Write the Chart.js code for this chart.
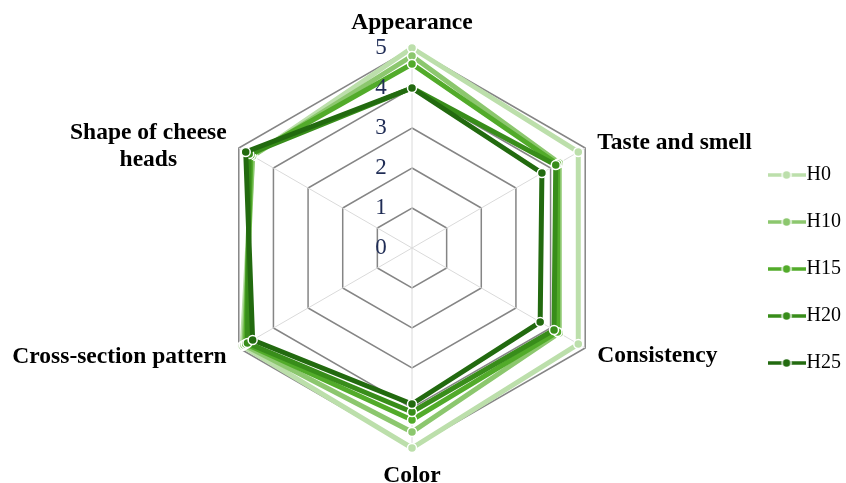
<!DOCTYPE html>
<html>
<head>
<meta charset="utf-8">
<script src="https://cdn.jsdelivr.net/npm/chart.js@4.4.1/dist/chart.umd.min.js"></script>
<style>
  html, body { margin: 0; padding: 0; background: #fff; }
  #wrap { width: 846px; height: 483px; }
</style>
</head>
<body>
<div id="wrap"><canvas id="radar"></canvas></div>
<script>
// sensory scores per criterion
const criteria = ['Appearance', 'Taste and smell', 'Consistency', 'Color', 'Cross-section pattern', ['Shape of cheese', 'heads']];
const seriesNames = ['H0', 'H10', 'H15', 'H20', 'H25'];
const h0 = [5.0, 4.8, 4.8, 5.0, 4.9, 4.6];
const h10 = [4.8, 4.25, 4.25, 4.6, 4.85, 4.6];
const h15 = [4.6, 4.2, 4.2, 4.3, 4.8, 4.65];
const h20 = [4.0, 4.15, 4.1, 4.1, 4.75, 4.7];
const h25 = [4.0, 3.75, 3.7, 3.9, 4.6, 4.8];
const scoreTicks = [0, 1, 2, 3, 4, 5];

const colors = ['#bcdfab', '#8cc76e', '#52ab2a', '#388d1a', '#226a0f'];
const series = [h0, h10, h15, h20, h25];

function legendMark(color) {
  const c = document.createElement('canvas');
  c.width = 38; c.height = 12;
  const g = c.getContext('2d');
  g.strokeStyle = color;
  g.lineWidth = 3.5;
  g.beginPath(); g.moveTo(0, 6); g.lineTo(38, 6); g.stroke();
  g.fillStyle = color;
  g.strokeStyle = '#fff';
  g.lineWidth = 1.5;
  g.beginPath(); g.arc(19, 6, 4.5, 0, Math.PI * 2); g.fill(); g.stroke();
  return c;
}
const marks = colors.map(legendMark);

// tick numbers left of the axis and the criterion names
const radarText = {
  id: 'radarText',
  afterDraw(chart) {
    const r = chart.scales.r;
    const ctx = chart.ctx;
    ctx.save();
    ctx.font = '23px "Liberation Serif"';
    ctx.fillStyle = '#1f2c55';
    ctx.textAlign = 'center';
    ctx.textBaseline = 'middle';
    scoreTicks.forEach(v => {
      const d = r.getDistanceFromCenterForValue(v);
      ctx.fillText(String(v), r.xCenter - 31, r.yCenter - d);
    });

    ctx.font = 'bold 23.5px "Liberation Serif"';
    ctx.fillStyle = '#000';
    const nudge = [1, 2, 1, 2, 2, 5];
    criteria.forEach((lab, i) => {
      const lines = [].concat(lab);
      const lh = 27;
      const gap = (i === 0 || i === 3) ? 26 : 14;
      const p = r.getPointPosition(i, r.drawingArea + gap);
      const w = Math.max(...lines.map(s => ctx.measureText(s).width));
      let x = p.x;
      if (p.x > r.xCenter + 1) x = p.x + w / 2;
      else if (p.x < r.xCenter - 1) x = p.x - w / 2;
      const y0 = p.y - (lines.length - 1) * lh / 2 + nudge[i];
      lines.forEach((s, k) => ctx.fillText(s, x, y0 + k * lh));
    });
    ctx.restore();
  }
};

new Chart(document.getElementById('radar'), {
  type: 'radar',
  data: {
    labels: criteria,
    datasets: seriesNames.map((name, i) => ({
      label: name,
      data: series[i],
      borderColor: colors[i],
      backgroundColor: colors[i],
      borderWidth: 5,
      fill: false,
      pointRadius: 4.5,
      pointBackgroundColor: colors[i],
      pointBorderColor: '#fff',
      pointBorderWidth: 1.5,
      order: seriesNames.length - 1 - i
    }))
  },
  options: {
    responsive: true,
    maintainAspectRatio: false,
    animation: false,
    layout: { padding: { left: 75, right: -5, top: 48, bottom: 35 } },
    scales: {
      r: {
        min: 0,
        max: 5,
        ticks: { stepSize: 1, display: false },
        grid: { color: '#858585', lineWidth: 1.5 },
        angleLines: { color: '#dadada', lineWidth: 1 },
        pointLabels: { display: false }
      }
    },
    plugins: {
      tooltip: { enabled: false },
      legend: {
        position: 'right',
        title: { display: true, text: ' ', font: { size: 20 }, padding: 9 },
        labels: {
          usePointStyle: true,
          pointStyleWidth: 20,
          padding: 27,
          color: '#000',
          font: { family: '"Liberation Serif"', size: 20 },
          generateLabels(chart) {
            return chart.data.datasets.map((ds, i) => ({
              text: ds.label,
              fontColor: '#000',
              fillStyle: ds.borderColor,
              strokeStyle: ds.borderColor,
              lineWidth: 0,
              pointStyle: marks[i],
              hidden: !chart.isDatasetVisible(i),
              datasetIndex: i
            }));
          }
        }
      }
    }
  },
  plugins: [radarText]
});
</script>
</body>
</html>
